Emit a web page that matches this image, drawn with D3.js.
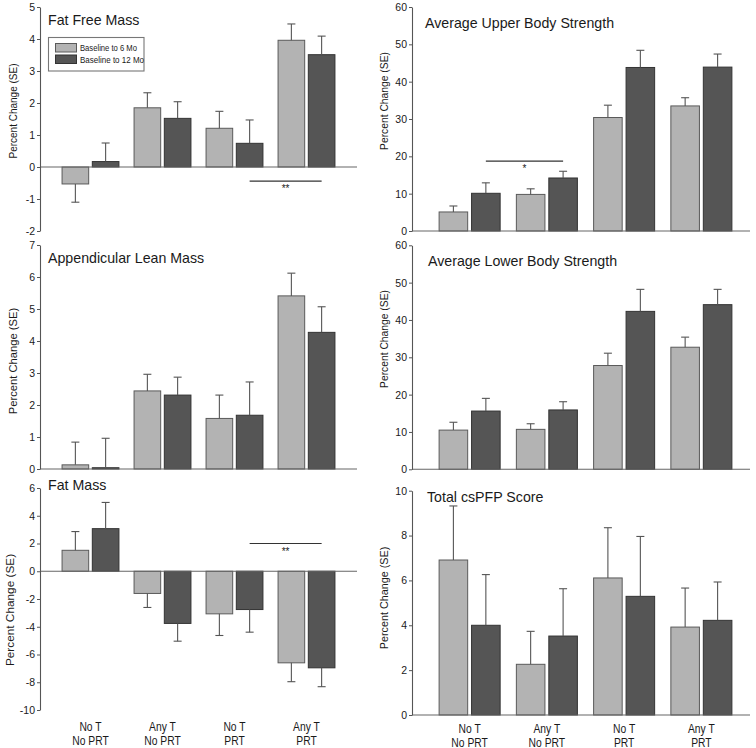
<!DOCTYPE html>
<html><head><meta charset="utf-8">
<script src="https://cdn.jsdelivr.net/npm/d3@7"></script>
<style>
body{margin:0;background:#fff}
svg{display:block}
text{font-family:"Liberation Sans",Arial,Helvetica,sans-serif;fill:#1a1a1a}
</style>
</head><body>
<svg id="chart" width="756" height="748"></svg>
<script>
// ---------- data ----------
const groups = ["NoT_NoPRT", "AnyT_NoPRT", "NoT_PRT", "AnyT_PRT"];
const groupLine1 = ["No T", "Any T", "No T", "Any T"];
const groupLine2 = ["No PRT", "No PRT", "PRT", "PRT"];
const seriesNames = ["Baseline to 6 Mo", "Baseline to 12 Mo"];

const fatFree6 = [-0.53, 1.85, 1.21, 3.96];
const fatFree6SE = [0.57, 0.47, 0.53, 0.51];
const fatFree12 = [0.17, 1.52, 0.74, 3.51];
const fatFree12SE = [0.58, 0.52, 0.73, 0.58];

const lean6 = [0.13, 2.44, 1.58, 5.41];
const lean6SE = [0.71, 0.52, 0.73, 0.71];
const lean12 = [0.04, 2.31, 1.68, 4.27];
const lean12SE = [0.92, 0.56, 1.04, 0.80];

const fat6 = [1.51, -1.60, -3.07, -6.60];
const fat6SE = [1.35, 1.01, 1.56, 1.36];
const fat12 = [3.07, -3.76, -2.76, -6.96];
const fat12SE = [1.89, 1.28, 1.63, 1.36];

const upper6 = [5.1, 9.8, 30.4, 33.5];
const upper6SE = [1.6, 1.5, 3.3, 2.2];
const upper12 = [10.1, 14.2, 43.8, 43.9];
const upper12SE = [2.8, 1.8, 4.6, 3.5];

const lower6 = [10.5, 10.7, 27.8, 32.7];
const lower6SE = [2.1, 1.5, 3.3, 2.7];
const lower12 = [15.6, 15.9, 42.3, 44.1];
const lower12SE = [3.4, 2.2, 5.9, 4.1];

const cspfp6 = [6.91, 2.26, 6.11, 3.92];
const cspfp6SE = [2.41, 1.47, 2.24, 1.74];
const cspfp12 = [4.00, 3.52, 5.29, 4.22];
const cspfp12SE = [2.26, 2.11, 2.67, 1.71];

const ticksFatFree = [-2, -1, 0, 1, 2, 3, 4, 5];
const ticksLean = [0, 1, 2, 3, 4, 5, 6, 7];
const ticksFat = [-10, -8, -6, -4, -2, 0, 2, 4, 6];
const ticksStrength = [0, 10, 20, 30, 40, 50, 60];
const ticksScore = [0, 2, 4, 6, 8, 10];

const yLabel = "Percent Change (SE)";

// ---------- layout ----------
const cols = {
  L: {axisX: 40, lineEnd: 357, band: [54.5, 342.5], labelY: [731, 745]},
  R: {axisX: 412, lineEnd: 750, band: [431, 740], labelY: [733, 747]}
};

const panels = [
  {title: "Fat Free Mass", col: "L", v: [fatFree6, fatFree12], se: [fatFree6SE, fatFree12SE],
   ticks: ticksFatFree, range: [231, 7], tx: 48, ty: 24.5, lab: {x: 13, y: 111, fs: 10},
   legend: true, sig: {from: 2, to: 3, val: -0.44, txt: "**"}},
  {title: "Appendicular Lean Mass", col: "L", v: [lean6, lean12], se: [lean6SE, lean12SE],
   ticks: ticksLean, range: [469, 245], tx: 48, ty: 262.5, lab: {x: 13, y: 361, fs: 11.2}},
  {title: "Fat Mass", col: "L", v: [fat6, fat12], se: [fat6SE, fat12SE],
   ticks: ticksFat, range: [710, 488], tx: 48, ty: 490, lab: {x: 10, y: 610, fs: 11.8},
   sig: {from: 2, to: 3, val: 2.0, txt: "**"}, xlabels: true},
  {title: "Average Upper Body Strength", col: "R", v: [upper6, upper12], se: [upper6SE, upper12SE],
   ticks: ticksStrength, range: [231, 7], tx: 425, ty: 27.5, lab: {x: 384, y: 101, fs: 10.3},
   sig: {from: 0, to: 1, val: 18.7, txt: "*"}},
  {title: "Average Lower Body Strength", col: "R", v: [lower6, lower12], se: [lower6SE, lower12SE],
   ticks: ticksStrength, range: [469.3, 245.3], tx: 428, ty: 265.5, lab: {x: 384, y: 339, fs: 10.3}},
  {title: "Total csPFP Score", col: "R", v: [cspfp6, cspfp12], se: [cspfp6SE, cspfp12SE],
   ticks: ticksScore, range: [715, 490.7], tx: 427, ty: 501.5, lab: {x: 384, y: 598, fs: 10.8},
   xlabels: true}
];

const fills = ["#b3b3b3", "#555555"];
const strokes = ["#5a5a5a", "#333333"];

const svg = d3.select("#chart");

panels.forEach(p => {
  const c = cols[p.col];
  const y = d3.scaleLinear().domain(d3.extent(p.ticks)).range(p.range);
  const x0 = d3.scaleBand().domain(groups).range(c.band).paddingInner(0.21).paddingOuter(0.105);
  const x1 = d3.scaleBand().domain(seriesNames).range([0, x0.bandwidth()]).paddingInner(0.12);
  const g = svg.append("g");

  // bars
  groups.forEach((grp, gi) => {
    seriesNames.forEach((s, si) => {
      const v = p.v[si][gi];
      const e = p.se[si][gi];
      const bx = x0(grp) + x1(s);
      const y0 = y(0), yv = y(v);
      g.append("rect")
        .attr("x", bx).attr("y", Math.min(y0, yv))
        .attr("width", x1.bandwidth()).attr("height", Math.abs(yv - y0))
        .attr("fill", fills[si]).attr("stroke", strokes[si]).attr("stroke-width", 1);
      const ye = y(v + (v >= 0 ? e : -e));
      const cx = bx + x1.bandwidth() / 2;
      g.append("line").attr("x1", cx).attr("x2", cx).attr("y1", yv).attr("y2", ye)
        .attr("stroke", "#555").attr("stroke-width", 1.1);
      g.append("line").attr("x1", cx - 4).attr("x2", cx + 4).attr("y1", ye).attr("y2", ye)
        .attr("stroke", "#555").attr("stroke-width", 1.1);
    });
  });

  // zero line
  g.append("line").attr("x1", c.axisX).attr("x2", c.lineEnd)
    .attr("y1", y(0)).attr("y2", y(0)).attr("stroke", "#666").attr("stroke-width", 1.1);

  // y axis
  const ax = g.append("g").attr("transform", `translate(${c.axisX},0)`)
    .call(d3.axisLeft(y).tickValues(p.ticks).tickFormat(d => String(d))
      .tickSize(3).tickSizeOuter(0).tickPadding(2));
  ax.select(".domain").attr("stroke", "#555").attr("stroke-width", 1.1);
  ax.selectAll(".tick line").attr("stroke", "#555");
  ax.selectAll(".tick text").attr("font-size", 10.5).attr("fill", "#1a1a1a")
    .style("font-family", '"Liberation Sans",Arial,sans-serif');

  // title
  g.append("text").attr("x", p.tx).attr("y", p.ty).attr("font-size", 14.2).text(p.title);

  // y label
  g.append("text").attr("transform", `translate(${p.lab.x},${p.lab.y}) rotate(-90)`)
    .attr("text-anchor", "middle").attr("dominant-baseline", "central")
    .attr("font-size", p.lab.fs).text(yLabel);

  // significance
  if (p.sig) {
    const xa = x0(groups[p.sig.from]) + x1(seriesNames[1]) + x1.bandwidth() / 2;
    const xb = x0(groups[p.sig.to]) + x1(seriesNames[1]) + x1.bandwidth() / 2;
    const ys = y(p.sig.val);
    g.append("line").attr("x1", xa).attr("x2", xb).attr("y1", ys).attr("y2", ys)
      .attr("stroke", "#333").attr("stroke-width", 1.2);
    g.append("text").attr("x", (xa + xb) / 2).attr("y", ys + 11)
      .attr("text-anchor", "middle").attr("font-size", 10).text(p.sig.txt);
  }

  // x labels
  if (p.xlabels) {
    groups.forEach((grp, gi) => {
      const cx = x0(grp) + x0.bandwidth() / 2;
      [groupLine1[gi], groupLine2[gi]].forEach((t, li) => {
        g.append("text").attr("transform", `translate(${cx},${c.labelY[li]}) scale(0.86,1)`)
          .attr("text-anchor", "middle").attr("font-size", 12).text(t);
      });
    });
  }

  // legend
  if (p.legend) {
    const lg = g.append("g");
    lg.append("rect").attr("x", 48.5).attr("y", 37.5).attr("width", 95.5).attr("height", 33.5)
      .attr("fill", "#fff").attr("stroke", "#777").attr("stroke-width", 1.1);
    const lens = [57, 64];
    seriesNames.forEach((s, si) => {
      lg.append("rect").attr("x", 55.5).attr("y", 43.5 + si * 11.5).attr("width", 21).attr("height", 8.5)
        .attr("fill", fills[si]).attr("stroke", strokes[si]);
      lg.append("text").attr("x", 80).attr("y", 51.3 + si * 11.5).attr("font-size", 8.6)
        .attr("textLength", lens[si]).attr("lengthAdjust", "spacingAndGlyphs").text(s);
    });
  }
});
</script>
</body></html>
